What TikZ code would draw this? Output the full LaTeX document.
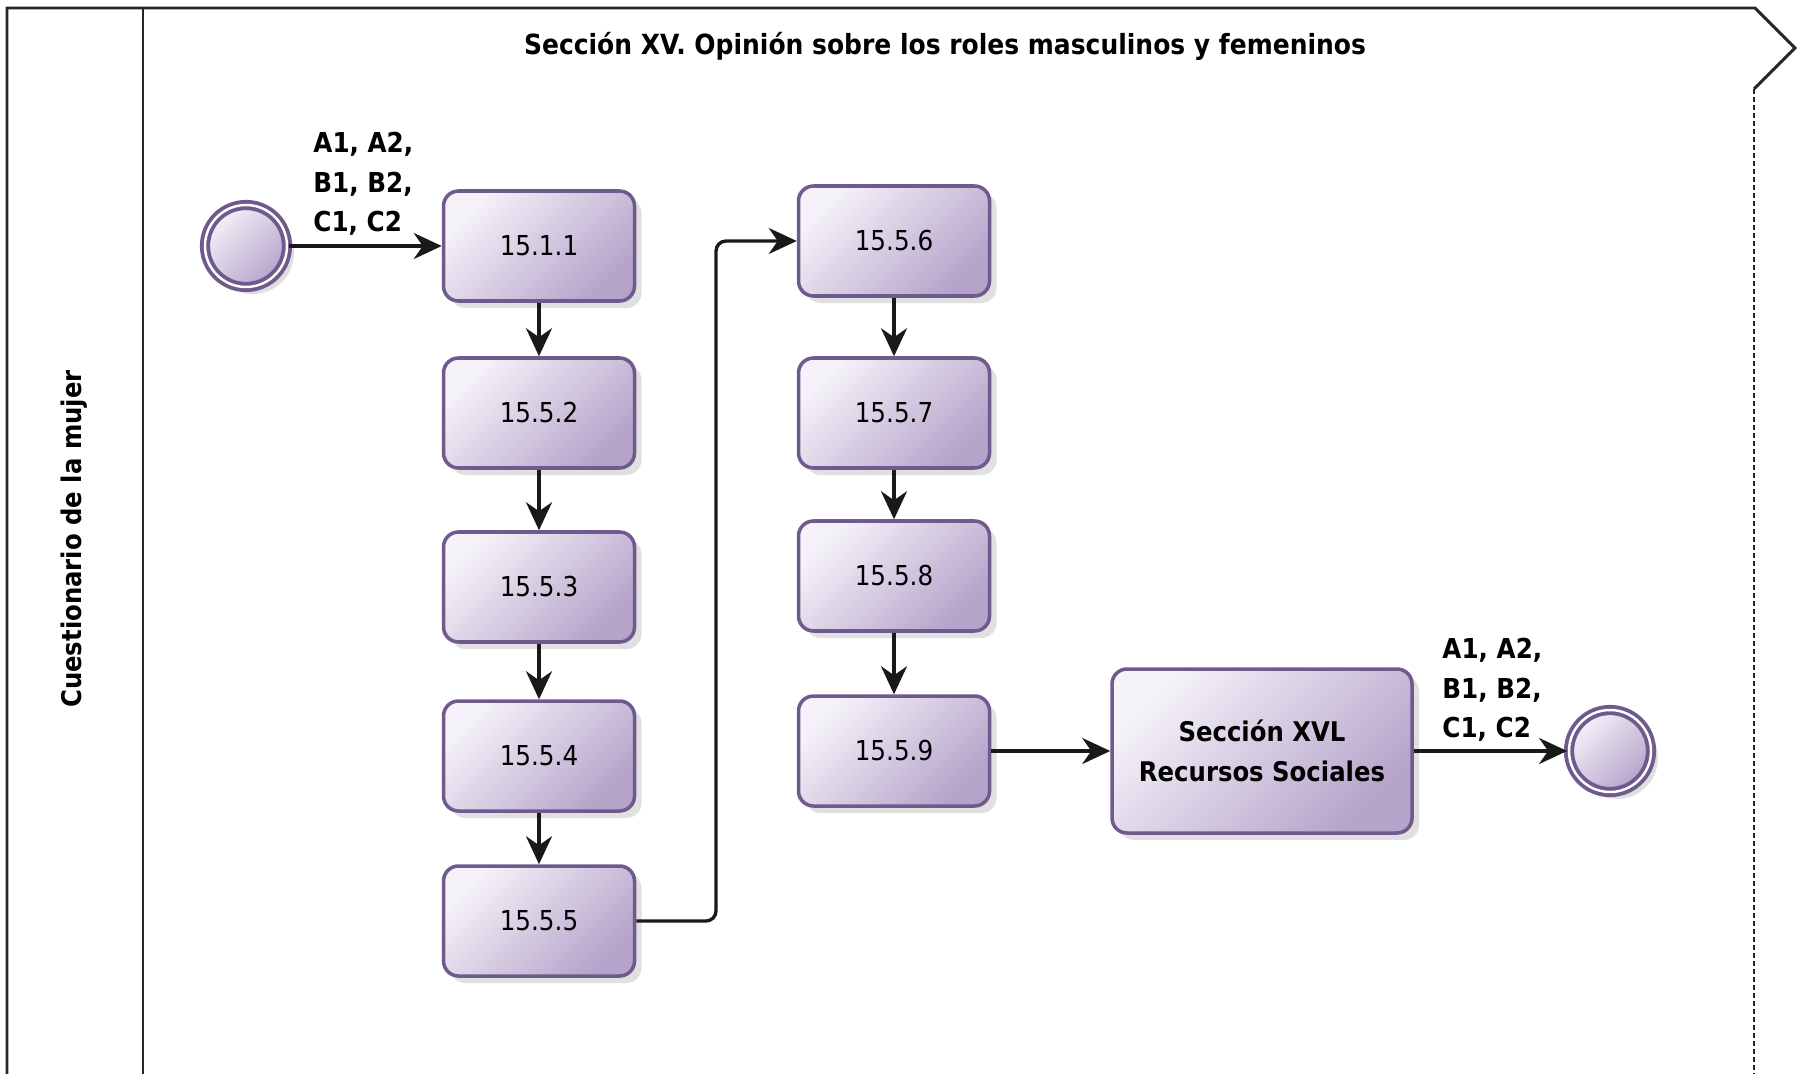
\documentclass[tikz,border=0pt]{standalone}
\usepackage{fontspec}
\setmainfont[FakeStretch=0.9]{DejaVu Sans}
\usetikzlibrary{arrows.meta,shadows}

\definecolor{taskborder}{HTML}{6E5A8C}
\definecolor{tasklight}{HTML}{F5F2F9}
\definecolor{taskdark}{HTML}{B5A3CA}

\tikzset{
  pool/.style={draw=black!85, line width=0.85pt},
  softshadow/.style={drop shadow={shadow xshift=0.7mm, shadow yshift=-0.7mm, fill=black, opacity=0.12}},
  task/.style={rectangle, rounded corners=1.5mm, draw=taskborder, line width=1pt,
    minimum width=1.91cm, minimum height=1.10cm,
    top color=tasklight, bottom color=taskdark, shading angle=45, softshadow,
    font=\fontsize{7.8}{9}\selectfont},
  subproc/.style={task, minimum width=3.0cm, minimum height=1.64cm, align=center,
    font=\fontsize{7.7}{11.2}\selectfont\bfseries},
  event/.style={circle, minimum size=0.82cm, draw=taskborder, line width=1.1pt,
    double=white, double distance=0.7pt,
    top color=tasklight, bottom color=taskdark, shading angle=45, softshadow},
  flow/.style={-{Stealth[length=2.8mm,width=2.6mm,inset=0.9mm]}, line width=0.95pt, black!90},
  flowlabel/.style={align=left, font=\fontsize{7.8}{11.3}\selectfont\bfseries},
}

\begin{document}
\begin{tikzpicture}[x=0.1mm, y=-0.1mm]
\useasboundingbox (0,0) rectangle (1797,1073);

% Pool and lane
\draw[pool] (7,1090) -- (7,8) -- (1755,8) -- (1795,48) -- (1754,89);
\draw[pool, line width=0.7pt, dash pattern=on 0.5mm off 0.3mm] (1754,89) -- (1754,1090);
\draw[pool] (143,8) -- (143,1090);
\node[font=\fontsize{7.9}{9}\selectfont\bfseries] (title) at (945,46)
  {Sección XV. Opinión sobre los roles masculinos y femeninos};
\node[rotate=90, font=\fontsize{7.7}{9}\selectfont\bfseries] (lane) at (74,539)
  {Cuestionario de la mujer};

% Events
\node[event] (start) at (246,246) {};
\node[event] (end) at (1610,751) {};

% First column
\node[task] (t1) at (539,246) {15.1.1};
\node[task] (t2) at (539,413) {15.5.2};
\node[task] (t3) at (539,587) {15.5.3};
\node[task] (t4) at (539,756) {15.5.4};
\node[task] (t5) at (539,921) {15.5.5};

% Second column
\node[task] (t6) at (894,241) {15.5.6};
\node[task] (t7) at (894,413) {15.5.7};
\node[task] (t8) at (894,576) {15.5.8};
\node[task] (t9) at (894,751) {15.5.9};

% Next section
\node[subproc] (next) at (1262,751) {Sección XVL\\Recursos Sociales};

% Flows
\coordinate (bend) at (716,600);
\draw[flow] (start) -- (t1);
\draw[flow] (t1) -- (t2);
\draw[flow] (t2) -- (t3);
\draw[flow] (t3) -- (t4);
\draw[flow] (t4) -- (t5);
\draw[flow, rounded corners=1mm] (t5.east) -- (t5.east -| bend) -- (t6.west -| bend) -- (t6.west);
\draw[flow] (t6) -- (t7);
\draw[flow] (t7) -- (t8);
\draw[flow] (t8) -- (t9);
\draw[flow] (t9) -- (next);
\draw[flow] (next) -- (end);

% Flow labels
\node[flowlabel, anchor=west] (inlabel) at (301,184) {A1, A2,\\B1, B2,\\C1, C2};
\node[flowlabel, anchor=west] (outlabel) at (1430,690) {A1, A2,\\B1, B2,\\C1, C2};

\end{tikzpicture}
\end{document}
